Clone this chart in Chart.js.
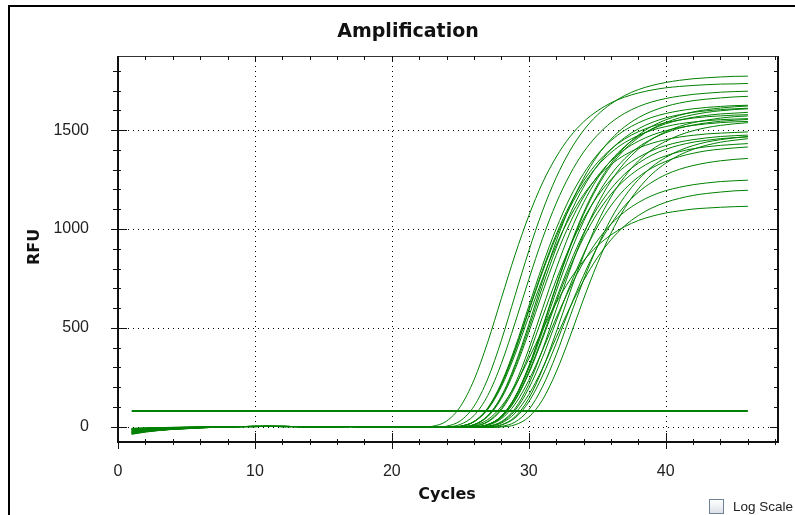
<!DOCTYPE html>
<html>
<head>
<meta charset="utf-8">
<title>Amplification</title>
<script src="https://cdn.jsdelivr.net/npm/chart.js@4.4.1/dist/chart.umd.min.js"></script>
<style>
  html, body { margin: 0; padding: 0; background: #fff; }
  canvas { display: block; }
</style>
</head>
<body>
<canvas id="amp" width="795" height="515"></canvas>
<script>
// ── Data ─────────────────────────────────────────────────────────
const cycles = [1,2,3,4,5,6,7,8,9,10,11,12,13,14,15,16,17,18,19,20,21,22,23,24,25,26,27,28,29,30,31,32,33,34,35,36,37,38,39,40,41,42,43,44,45,46];
const threshold = 80;
const xTicks = [0, 10, 20, 30, 40];
const yTicks = [0, 500, 1000, 1500];

const curve01 = [-38,-27,-19,-13,-10,-6,-3,0,1,2,2,1,1,0,0,1,1,0,-1,-2,-3,-2,3,29,102,237,428,650,870,1067,1233,1364,1466,1542,1597,1638,1667,1688,1703,1714,1721,1726,1730,1733,1734,1736];
const curve02 = [-8,-6,-4,-3,-2,-1,-1,0,1,1,2,2,1,0,0,0,1,0,-1,-2,-3,-3,-3,3,30,104,242,437,665,889,1091,1260,1395,1499,1576,1633,1675,1705,1726,1741,1752,1760,1765,1769,1772,1773];
const curve03 = [-30,-21,-15,-11,-8,-5,-2,0,1,2,2,1,1,0,0,1,1,0,-1,-2,-3,-3,-3,-1,12,57,158,320,526,745,951,1130,1275,1389,1474,1538,1585,1619,1643,1660,1672,1681,1687,1692,1695,1697];
const curve04 = [-15,-11,-8,-5,-4,-2,-1,0,1,1,2,2,1,0,0,0,1,0,-1,-2,-3,-3,-3,-3,3,27,95,222,401,610,816,1001,1157,1280,1376,1447,1499,1537,1565,1584,1598,1608,1615,1620,1624,1626];
const curve05 = [-22,-15,-11,-8,-6,-3,-2,0,1,2,2,1,1,0,0,1,1,0,-1,-2,-3,-3,-3,-3,-1,11,56,155,315,517,735,938,1114,1257,1369,1454,1517,1563,1596,1620,1637,1649,1657,1663,1668,1671];
const curve06 = [-35,-25,-18,-12,-9,-5,-3,0,1,1,2,2,1,0,0,0,1,0,-1,-2,-3,-3,-3,-3,-1,11,54,150,304,498,709,904,1074,1212,1320,1402,1462,1507,1539,1562,1578,1590,1598,1604,1608,1611];
const curve07 = [-12,-8,-6,-4,-3,-2,-1,0,1,2,2,1,1,0,0,1,1,0,-1,-2,-3,-3,-3,-3,-3,3,27,93,217,393,597,799,981,1133,1254,1347,1417,1468,1505,1532,1551,1565,1575,1582,1586,1590];
const curve08 = [-26,-18,-13,-9,-7,-4,-2,0,1,1,2,2,1,0,0,0,1,0,-1,-2,-3,-3,-3,-3,3,26,92,215,389,592,792,972,1123,1243,1335,1404,1455,1492,1519,1538,1551,1561,1568,1572,1576,1578];
const curve09 = [-18,-13,-9,-6,-5,-3,-1,0,1,2,2,1,1,0,0,1,1,0,-1,-2,-3,-3,-3,-3,-1,10,51,143,291,478,679,867,1029,1162,1265,1344,1402,1444,1475,1497,1513,1524,1532,1538,1542,1544];
const curve10 = [-33,-23,-17,-12,-8,-5,-3,0,1,1,2,2,1,0,0,0,1,0,-1,-2,-3,-3,-3,-3,-3,-1,10,52,145,294,482,685,874,1038,1171,1276,1355,1414,1456,1487,1510,1526,1537,1545,1550,1554];
const curve11 = [-10,-7,-5,-4,-3,-2,-1,0,1,2,2,1,1,0,0,1,1,0,-1,-2,-3,-3,-3,-3,2,25,87,203,367,559,748,918,1060,1174,1261,1326,1374,1409,1434,1452,1465,1474,1481,1485,1488,1491];
const curve12 = [-28,-20,-14,-10,-7,-4,-2,0,1,1,2,2,1,0,0,0,1,0,-1,-2,-3,-3,-3,-3,-3,2,24,86,202,364,555,742,910,1051,1164,1250,1315,1362,1397,1422,1440,1452,1461,1468,1472,1475];
const curve13 = [-20,-14,-10,-7,-5,-3,-2,0,1,2,2,1,1,0,0,1,1,0,-1,-2,-3,-3,-3,-3,-3,-1,10,49,136,277,454,646,824,979,1105,1203,1278,1333,1374,1403,1424,1439,1449,1457,1462,1466];
const curve14 = [-36,-25,-18,-13,-9,-5,-3,0,1,1,2,2,1,0,0,0,1,0,-1,-2,-3,-3,-3,-3,-3,-1,11,54,150,304,498,709,904,1074,1212,1320,1402,1462,1507,1539,1562,1578,1590,1598,1604,1608];
const curve15 = [-14,-10,-7,-5,-4,-2,-1,0,1,2,2,1,1,0,0,1,1,0,-1,-2,-3,-3,-3,-3,-3,-3,3,26,92,215,389,592,792,972,1123,1243,1335,1404,1455,1492,1519,1538,1551,1561,1568,1572];
const curve16 = [-24,-17,-12,-8,-6,-4,-2,0,1,1,2,2,1,0,0,0,1,0,-1,-2,-3,-3,-3,-3,-3,-3,-1,10,51,143,291,478,679,867,1029,1162,1265,1344,1402,1444,1475,1497,1513,1524,1532,1538];
const curve17 = [-31,-22,-16,-11,-8,-5,-2,0,1,2,2,1,1,0,0,1,1,0,-1,-2,-3,-3,-3,-3,-3,-1,9,48,133,270,444,631,805,956,1079,1176,1248,1302,1342,1370,1391,1406,1416,1423,1428,1432];
const curve18 = [-9,-6,-5,-3,-2,-1,-1,0,1,1,2,2,1,0,0,0,1,0,-1,-2,-3,-3,-3,-3,-3,-3,2,23,83,194,350,533,713,874,1010,1118,1201,1263,1309,1342,1366,1383,1396,1404,1410,1415];
const curve19 = [-17,-12,-9,-6,-4,-3,-1,0,1,2,2,1,1,0,0,1,1,0,-1,-2,-3,-3,-3,-3,-3,-3,-3,2,24,86,202,364,555,742,910,1051,1164,1250,1315,1362,1397,1422,1440,1452,1461,1468];
const curve20 = [-27,-19,-14,-9,-7,-4,-2,0,1,1,2,2,1,0,0,0,1,0,-1,-2,-3,-3,-3,-3,-3,-3,-1,9,45,126,257,421,600,765,909,1025,1117,1186,1237,1275,1302,1321,1335,1345,1352,1357];
const curve21 = [-34,-24,-17,-12,-9,-5,-3,0,1,2,2,1,1,0,0,1,1,0,-1,-2,-3,-3,-3,-3,-3,-2,8,41,115,235,386,550,701,833,940,1024,1087,1134,1169,1194,1211,1224,1233,1240,1244,1247];
const curve22 = [-13,-9,-7,-5,-3,-2,-1,0,1,1,2,2,1,0,0,0,1,0,-1,-2,-3,-3,-3,-3,-3,-3,1,19,69,163,295,451,603,739,854,945,1016,1068,1107,1135,1155,1170,1180,1187,1193,1196];
const curve23 = [-21,-15,-11,-7,-5,-3,-2,0,1,2,2,1,1,0,0,1,1,0,-1,-2,-3,-3,-3,-3,-2,7,36,103,209,344,490,626,743,839,914,970,1012,1043,1065,1081,1092,1101,1106,1110,1113,1115];
const curve24 = [-29,-20,-15,-10,-7,-4,-2,0,1,1,2,2,1,0,0,0,1,0,-1,-2,-3,-3,-3,-3,-3,-3,-3,-1,10,49,136,277,454,646,824,979,1105,1203,1278,1333,1374,1403,1424,1439,1449,1457];
const curve25 = [-11,-8,-6,-4,-3,-2,-1,0,1,2,2,1,1,0,0,1,1,0,-1,-2,-3,-3,-3,-3,2,26,91,213,384,585,782,960,1109,1227,1318,1386,1437,1473,1500,1518,1532,1541,1548,1553,1556,1558];
const curve26 = [-25,-18,-13,-9,-6,-4,-2,0,1,1,2,2,1,0,0,0,1,0,-1,-2,-3,-3,-3,-3,-3,-1,11,54,151,306,503,715,912,1083,1222,1331,1414,1475,1520,1552,1575,1592,1604,1612,1618,1622];

const curves = [curve01, curve02, curve03, curve04, curve05, curve06, curve07, curve08, curve09, curve10, curve11, curve12, curve13,
  curve14, curve15, curve16, curve17, curve18, curve19, curve20, curve21, curve22, curve23, curve24, curve25, curve26];

// ── Style ────────────────────────────────────────────────────────
const GREEN = '#008000';
const TICK_FONT = { family: '"Liberation Sans", Arial, sans-serif', size: 16 };
const BOLD = '"DejaVu Sans", sans-serif';

const datasets = [
  { data: [{ x: cycles[0], y: threshold }, { x: cycles[cycles.length - 1], y: threshold }], borderColor: GREEN, borderWidth: 2 },
  ...curves.map(c => ({
    data: cycles.map((x, i) => ({ x, y: c[i] })),
    borderColor: GREEN, borderWidth: 1, cubicInterpolationMode: 'monotone'
  }))
];

// grid, box, ticks, titles
const frame = {
  id: 'frame',
  beforeDatasetsDraw(chart) {
    const { ctx, chartArea: a, scales: { x, y } } = chart;
    ctx.save();
    ctx.strokeStyle = '#000';
    ctx.lineWidth = 1;
    ctx.setLineDash([1, 4]);
    xTicks.forEach(v => {
      if (v === 0) return;
      const px = Math.round(x.getPixelForValue(v)) + 0.5;
      ctx.beginPath(); ctx.moveTo(px, a.top); ctx.lineTo(px, a.bottom); ctx.stroke();
    });
    yTicks.forEach(v => {
      const py = Math.round(y.getPixelForValue(v)) + 0.5;
      ctx.beginPath(); ctx.moveTo(a.left, py); ctx.lineTo(a.right, py); ctx.stroke();
    });
    ctx.restore();
  },
  afterDatasetsDraw(chart) {
    const { ctx, chartArea: a, scales: { x, y } } = chart;
    ctx.save();
    ctx.fillStyle = '#111';
    ctx.fillRect(a.left - 1, a.top, 2, a.bottom - a.top + 1);
    ctx.fillRect(a.left - 1, a.bottom - 1, a.right - a.left + 2, 2);
    ctx.fillRect(a.right - 1, a.top, 2, a.bottom - a.top + 1);
    ctx.fillStyle = '#333';
    ctx.fillRect(a.left, a.top, a.right - a.left, 1);

    ctx.strokeStyle = '#111';
    ctx.lineWidth = 1;
    const tick = (x1, y1, x2, y2) => { ctx.beginPath(); ctx.moveTo(x1, y1); ctx.lineTo(x2, y2); ctx.stroke(); };
    for (let v = 0; v <= 48; v += 2) {
      const px = Math.round(x.getPixelForValue(v)) + 0.5;
      const major = v % 10 === 0;
      tick(px, a.bottom - (major ? 9 : 3), px, a.bottom + (major ? 7 : 3));
      tick(px, a.top, px, a.top + (major ? 6 : 4));
    }
    for (let v = 0; v <= 1800; v += 100) {
      const py = Math.round(y.getPixelForValue(v)) + 0.5;
      const major = v % 500 === 0;
      tick(a.left - (major ? 7 : 5), py, a.left + (major ? 9 : 3), py);
      tick(a.right - (major ? 8 : 4), py, a.right, py);
    }
    ctx.restore();
  },
  afterDraw(chart) {
    const { ctx } = chart;
    ctx.save();
    // window frame
    ctx.fillStyle = '#000';
    ctx.fillRect(8, 5, 787, 2);
    ctx.fillRect(8, 5, 2, 510);

    ctx.fillStyle = '#111';
    ctx.textAlign = 'center';
    ctx.textBaseline = 'alphabetic';
    ctx.font = `bold 19px ${BOLD}`;
    ctx.fillText('Amplification', 408, 37);
    ctx.font = `bold 16px ${BOLD}`;
    ctx.fillText('Cycles', 447, 499);
    ctx.save();
    ctx.translate(39, 247);
    ctx.rotate(-Math.PI / 2);
    ctx.fillText('RFU', 0, 0);
    ctx.restore();

    // log scale checkbox
    const g = ctx.createLinearGradient(0, 500, 0, 513);
    g.addColorStop(0, '#ffffff');
    g.addColorStop(1, '#dde2e8');
    ctx.fillStyle = g;
    ctx.fillRect(710, 500, 13, 13);
    ctx.strokeStyle = '#6f8296';
    ctx.lineWidth = 1;
    ctx.strokeRect(709.5, 499.5, 14, 14);
    ctx.fillStyle = '#222';
    ctx.textAlign = 'left';
    ctx.font = '13.5px "Liberation Sans", Arial, sans-serif';
    ctx.fillText('Log Scale', 733, 511);
    ctx.restore();
  }
};

new Chart(document.getElementById('amp'), {
  type: 'line',
  data: { datasets },
  options: {
    responsive: false,
    animation: false,
    layout: { padding: { left: 0, right: 17, top: 56, bottom: 0 } },
    elements: { point: { radius: 0 } },
    plugins: { legend: { display: false }, tooltip: { enabled: false }, title: { display: false } },
    scales: {
      x: {
        type: 'linear', min: 0, max: 48.2,
        grid: { display: false }, border: { display: false },
        afterBuildTicks: s => { s.ticks = xTicks.map(v => ({ value: v })); },
        ticks: { padding: 12, maxRotation: 0, autoSkip: false, color: '#222', font: TICK_FONT, callback: v => String(v) },
        afterFit: s => { s.height = 73; }
      },
      y: {
        min: -77, max: 1875,
        grid: { display: false }, border: { display: false },
        afterBuildTicks: s => { s.ticks = yTicks.map(v => ({ value: v })); },
        ticks: { padding: 21, autoSkip: false, color: '#222', font: TICK_FONT, callback: v => String(v) },
        afterFit: s => { s.width = 118; }
      }
    }
  },
  plugins: [frame]
});
</script>
</body>
</html>
